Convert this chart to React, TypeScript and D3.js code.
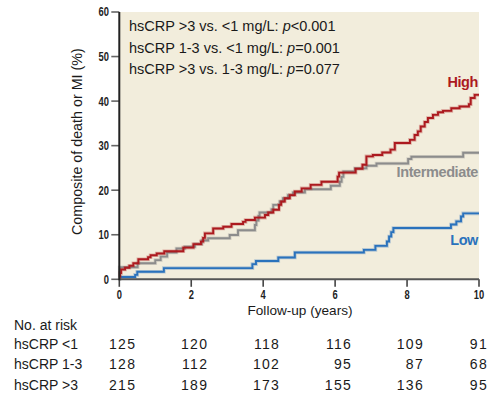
import React from "react";
import * as d3 from "d3";

const W = 502;
const H = 406;

const xTicks = [0, 2, 4, 6, 8, 10];
const yTicks = [0, 10, 20, 30, 40, 50, 60];

// Kaplan-Meier style cumulative incidence (%), [years, percent]
const lowCurve: [number, number][] = [
  [0, 0.5], [0.44, 1.0], [0.5, 1.7], [1.24, 2.5], [3.7, 3.4], [3.8, 4.1],
  [4.42, 4.9], [4.88, 6.0], [6.8, 6.6], [7.12, 7.5], [7.44, 8.5], [7.5, 9.6],
  [7.56, 10.6], [7.62, 11.5], [9.22, 12.3], [9.37, 13.0], [9.5, 14.1],
  [9.56, 14.8], [10, 14.8],
];

const intermediateCurve: [number, number][] = [
  [0, 0], [0.01, 2.7], [0.51, 3.6], [1.0, 4.3], [1.15, 5.1], [1.33, 6.0],
  [1.59, 6.9], [1.82, 7.3], [2.1, 7.9], [2.29, 8.7], [2.47, 9.2], [3.07, 9.95],
  [3.3, 11.0], [3.77, 12.2], [3.81, 13.2], [3.87, 14.2], [3.9, 15.0],
  [4.23, 15.7], [4.28, 16.7], [4.46, 17.45], [4.55, 18.2], [4.69, 18.9],
  [4.83, 19.5], [5.16, 20.2], [5.88, 21.0], [6.13, 21.9], [6.18, 23.0],
  [6.23, 24.2], [6.55, 24.9], [6.87, 25.5], [7.15, 26.0], [8.03, 27.0],
  [8.12, 27.5], [9.56, 28.4], [10, 28.4],
];

const highCurve: [number, number][] = [
  [0, 0.6], [0.02, 1.4], [0.05, 2.2], [0.16, 2.6], [0.28, 3.05], [0.39, 3.6],
  [0.53, 4.5], [0.8, 4.95], [0.87, 5.4], [1.04, 5.8], [1.25, 6.3], [1.78, 7.1],
  [2.06, 7.9], [2.27, 8.45], [2.33, 9.3], [2.38, 10.3], [2.61, 11.4],
  [2.89, 11.8], [3.12, 12.4], [3.44, 12.9], [3.51, 13.3], [3.77, 13.85],
  [4.05, 14.45], [4.14, 15.0], [4.28, 15.6], [4.44, 16.7], [4.5, 17.45],
  [4.6, 18.2], [4.74, 18.9], [4.88, 19.7], [5.07, 20.4], [5.32, 21.2],
  [5.62, 21.9], [6.07, 23.05], [6.11, 23.95], [6.57, 24.8], [6.76, 25.7],
  [6.87, 27.6], [7.05, 27.9], [7.31, 28.45], [7.54, 29.1], [7.66, 30.6],
  [8.08, 31.3], [8.21, 32.4], [8.3, 33.2], [8.38, 34.3], [8.49, 35.3],
  [8.58, 36.2], [8.72, 36.9], [8.86, 37.5], [9.0, 37.8], [9.23, 38.4],
  [9.46, 38.8], [9.72, 39.3], [9.77, 40.7], [9.88, 41.4], [10, 41.4],
];

const seriesNames = ["Low", "Intermediate", "High"];
const seriesColors = ["#2a72bc", "#8c8c8c", "#ac1a1f"];

const annotationPrefix = [
  "hsCRP >3 vs. <1 mg/L: ",
  "hsCRP 1-3 vs. <1 mg/L: ",
  "hsCRP >3 vs. 1-3 mg/L: ",
];
const annotationP = ["<0.001", "=0.001", "=0.077"];

const riskTimes = [0, 2, 4, 6, 8, 10];
const riskGroups = ["hsCRP <1", "hsCRP 1-3", "hsCRP >3"];
const riskLow = [125, 120, 118, 116, 109, 91];
const riskMid = [128, 112, 102, 95, 87, 68];
const riskHigh = [215, 189, 173, 155, 136, 95];

const xLabel = "Follow-up (years)";
const yLabel = "Composite of death or MI (%)";

export default function App() {
  const x = d3.scaleLinear().domain([0, 10]).range([119.3, 479]);
  const y = d3.scaleLinear().domain([0, 60]).range([279.3, 12]);
  const line = d3
    .line<[number, number]>()
    .x((d) => x(d[0]))
    .y((d) => y(d[1]))
    .curve(d3.curveStepAfter);

  const curves = [lowCurve, intermediateCurve, highCurve];
  const lastVals = curves.map((c) => c[c.length - 1][1]);
  const labelDy = [31.5, 24, -8];
  const mainFont = "'Liberation Sans', Arial, sans-serif";
  const tickFont = "'Liberation Sans', Arial, sans-serif";
  const riskRows = [riskLow, riskMid, riskHigh];

  const x0 = x.range()[0];
  const x1 = x.range()[1];
  const y0 = y.range()[0];
  const y1 = y.range()[1];

  return (
    <svg
      width={W}
      height={H}
      style={{ position: "absolute", left: 0, top: 0, background: "#fff" }}
    >
      <rect x={x0} y={y1} width={x1 - x0} height={y0 - y1} fill="#f2eddc" />

      {/* curves */}
      {curves.map((c, i) => (
        <g key={i}>
          <path
            d={line(c) || ""}
            fill="none"
            stroke={seriesColors[i]}
            strokeOpacity={0.3}
            strokeWidth={3.6}
          />
          <path
            d={line(c) || ""}
            fill="none"
            stroke={seriesColors[i]}
            strokeWidth={1.9}
          />
        </g>
      ))}

      {/* series labels */}
      {seriesNames.map((n, i) => (
        <text
          key={n}
          x={x1 - 1}
          y={y(lastVals[i]) + labelDy[i]}
          textAnchor="end"
          fontFamily={mainFont}
          fontWeight="bold"
          fontSize={14.5}
          letterSpacing={-0.4}
          fill={seriesColors[i]}
        >
          {n}
        </text>
      ))}

      {/* annotations */}
      {annotationPrefix.map((t, i) => (
        <text
          key={i}
          x={129}
          y={31.3 + i * 21.2}
          fontFamily={mainFont}
          fontSize={14.5}
          fill="#1a1a1a"
        >
          {t}
          <tspan fontStyle="italic">p</tspan>
          {annotationP[i]}
        </text>
      ))}

      {/* axes */}
      {yTicks.map((t) => (
        <g key={"y" + t}>
          <line x1={x0 - 8} x2={x0} y1={y(t)} y2={y(t)} stroke="#666" strokeWidth={1.6} />
          <text
            transform={`translate(109, ${y(t)}) scale(0.76, 1)`}
            dy="0.36em"
            textAnchor="end"
            fontFamily={tickFont}
            fontWeight="bold"
            fontSize={12.3}
            fill="#222"
          >
            {t}
          </text>
        </g>
      ))}
      {xTicks.map((t) => (
        <g key={"x" + t}>
          <line x1={x(t)} x2={x(t)} y1={y0} y2={y0 + 7.5} stroke="#444" strokeWidth={1.6} />
          <text
            transform={`translate(${x(t)}, 298.5) scale(0.76, 1)`}
            textAnchor="middle"
            fontFamily={tickFont}
            fontWeight="bold"
            fontSize={12.3}
            fill="#222"
          >
            {t}
          </text>
        </g>
      ))}
      <line x1={x0} x2={x1} y1={y0} y2={y0} stroke="#555" strokeWidth={2} />
      <line x1={x0} x2={x0} y1={y1} y2={y0 + 1} stroke="#222" strokeWidth={2} />

      <text
        x={300}
        y={315}
        textAnchor="middle"
        fontFamily={mainFont}
        fontSize={13.6}
        fill="#1a1a1a"
      >
        {xLabel}
      </text>
      <text
        transform={`translate(81.5, ${(y0 + y1) / 2 - 4}) rotate(-90)`}
        textAnchor="middle"
        fontFamily={mainFont}
        fontSize={14.3}
        fill="#1a1a1a"
      >
        {yLabel}
      </text>

      {/* number at risk */}
      <text x={14} y={330} fontFamily={mainFont} fontSize={14} fill="#1a1a1a">
        No. at risk
      </text>
      {riskGroups.map((g, r) => (
        <g key={g}>
          <text
            x={14}
            y={348.5 + r * 20.5}
            fontFamily={mainFont}
            fontSize={14}
            fill="#1a1a1a"
          >
            {g}
          </text>
          {riskRows[r].map((v, c) => (
            <text
              key={c}
              x={Math.min(x(riskTimes[c]) + 17, W - 14)}
              y={348.5 + r * 20.5}
              textAnchor="end"
              fontFamily={mainFont}
              fontSize={14}
              letterSpacing={1.3}
              fill="#1a1a1a"
            >
              {v}
            </text>
          ))}
        </g>
      ))}
    </svg>
  );
}
